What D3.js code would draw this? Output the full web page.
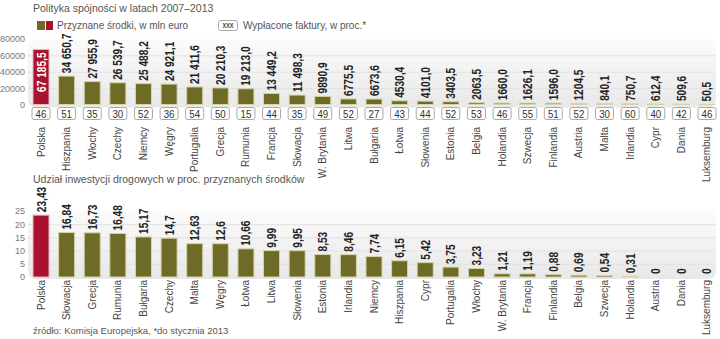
<!DOCTYPE html>
<html><head><meta charset="utf-8">
<script src="https://cdn.jsdelivr.net/npm/d3@7"></script>
<style>
html,body{margin:0;padding:0;background:#fff;}
svg{display:block;}
</style></head>
<body>
<script>
// ---- data ----
const countries1 = ["Polska","Hiszpania","Włochy","Czechy","Niemcy","Węgry","Portugalia","Grecja","Rumunia","Francja","Słowacja","W. Brytania","Litwa","Bułgaria","Łotwa","Słowenia","Estonia","Belgia","Holandia","Szwecja","Finlandia","Austria","Malta","Irlandia","Cypr","Dania","Luksemburg"];
const funds = [67185.5,34650.7,27955.9,26539.7,25488.2,24921.1,21411.6,20210.3,19213.0,13449.2,11498.3,9890.9,6775.5,6673.6,4530.4,4101.0,3403.5,2063.5,1660.0,1626.1,1596.0,1204.5,840.1,750.7,612.4,509.6,50.5];
const invoicesPct = [46,51,35,30,52,36,54,50,15,44,35,49,52,27,43,44,52,53,46,55,51,52,30,60,40,42,46];
const ticks1 = [0,20000,40000,60000,80000];

const countries2 = ["Polska","Słowacja","Grecja","Rumunia","Bułgaria","Czechy","Malta","Węgry","Łotwa","Litwa","Słowenia","Estonia","Irlandia","Niemcy","Hiszpania","Cypr","Portugalia","Włochy","W. Brytania","Francja","Finlandia","Belgia","Szwecja","Holandia","Austria","Dania","Luksemburg"];
const roadShare = [23.43,16.84,16.73,16.48,15.17,14.7,12.63,12.6,10.66,9.99,9.95,8.53,8.46,7.74,6.15,5.42,3.75,3.23,1.21,1.19,0.88,0.69,0.54,0.31,0,0,0];
const ticks2 = [0,5,10,15,20,25];

const title1 = "Polityka spójności w latach 2007–2013";
const legend1 = "Przyznane środki, w mln euro";
const legend2 = "Wypłacone faktury, w proc.*";
const title2 = "Udział inwestycji drogowych w proc. przyznanych środków";
const source = "źródło: Komisja Europejska, *do stycznia 2013";

// ---- styles ----
const OLIVE = "#6d6b25", RED = "#a8122e", TXT = "#555";
const SANS = "'Liberation Sans', Arial, sans-serif";
const NX = 0.78; // horizontal condensing for bold value labels

const W = 720, H = 339;
const svg = d3.select("body").append("svg").attr("width", W).attr("height", H);
const defs = svg.append("defs");
const grad = defs.append("linearGradient").attr("id","pg").attr("x1",0).attr("y1",0).attr("x2",0).attr("y2",1);
grad.append("stop").attr("offset","0%").attr("stop-color","#fbfbfb");
grad.append("stop").attr("offset","100%").attr("stop-color","#e8e8e8");

function fmtPL(v){
  let s = v.toFixed(1).replace(".", ",");
  if (v >= 10000) { const [i,d] = s.split(","); s = i.slice(0,i.length-3)+" "+i.slice(-3)+","+d; }
  return s;
}
function fmtDec(v){ return String(v).replace(".", ","); }

function makeX(domain){
  return d3.scaleBand().domain(domain).range([28.2, 719.8]).paddingInner(0.375).paddingOuter(0.1875);
}

// ---- titles & legend ----
svg.append("text").attr("x",33).attr("y",12).attr("font-family",SANS).attr("font-size",10.5).attr("fill",TXT).text(title1);
svg.append("rect").attr("x",37).attr("y",21).attr("width",8).attr("height",9).attr("fill",OLIVE);
svg.append("rect").attr("x",46).attr("y",21).attr("width",7).attr("height",9).attr("fill",RED);
svg.append("text").attr("x",57).attr("y",29).attr("font-family",SANS).attr("font-size",10).attr("fill",TXT).text(legend1);
svg.append("rect").attr("x",218.5).attr("y",20.5).attr("width",19).attr("height",10).attr("rx",2).attr("fill","#fff").attr("stroke","#aaa");
svg.append("text").attr("transform","translate(228,28) scale(0.8,1)").attr("text-anchor","middle").attr("font-family",SANS).attr("font-weight","bold").attr("font-size",7).attr("fill","#444").text("XXX");
svg.append("text").attr("x",243).attr("y",29).attr("font-family",SANS).attr("font-size",10).attr("fill",TXT).text(legend2);

// ---- chart 1 ----
const x1 = makeX(countries1);
const y1 = d3.scaleLinear().domain([0,80000]).range([104.5,39]);
const g1 = svg.append("g");
g1.append("rect").attr("x",28).attr("y",y1(80000)).attr("width",688).attr("height",y1(0)-y1(80000)+3).attr("rx",8).attr("fill","url(#pg)");
g1.selectAll("line.grid").data(ticks1.slice(1,-1)).join("line").attr("class","grid")
  .attr("x1",28).attr("x2",716).attr("y1",d=>y1(d)+0.5).attr("y2",d=>y1(d)+0.5).attr("stroke","#e2e2e2");
const ax1 = g1.append("g").attr("transform","translate(26,0)").call(d3.axisLeft(y1).tickValues(ticks1).tickSize(0).tickFormat(d3.format("d")));
ax1.select(".domain").remove();
ax1.selectAll("text").attr("font-family",SANS).attr("font-size",9).attr("fill","#777").attr("x",-1);

g1.selectAll("rect.bar").data(funds).join("rect").attr("class","bar")
  .attr("x",(d,i)=>x1(countries1[i])).attr("width",x1.bandwidth())
  .attr("y",d=>y1(d)).attr("height",d=>Math.max(0,y1(0)-y1(d)))
  .attr("fill",(d,i)=>i===0?RED:OLIVE).attr("stroke",(d,i)=>i===0?"#e8b8c0":"#d6d3a8").attr("stroke-width",1);

g1.selectAll("text.val").data(funds).join("text").attr("class","val")
  .attr("transform",(d,i)=>{const cx=x1(countries1[i])+x1.bandwidth()/2; return i===0?`translate(${cx+4.5},${y1(d)+3}) rotate(-90) scale(${NX},1)`:`translate(${cx+4.5},${y1(d)-3}) rotate(-90) scale(${NX},1)`;})
  .attr("text-anchor",(d,i)=>i===0?"end":"start")
  .attr("font-family",SANS).attr("font-weight","bold").attr("font-size",13)
  .attr("fill",(d,i)=>i===0?"#fff":"#222").text(d=>fmtPL(d));

const boxes = g1.selectAll("g.box").data(invoicesPct).join("g").attr("class","box")
  .attr("transform",(d,i)=>`translate(${x1(countries1[i])+x1.bandwidth()/2},0)`);
boxes.append("rect").attr("x",-9).attr("y",107.5).attr("width",18).attr("height",12).attr("rx",2).attr("fill","#fff").attr("stroke","#a8a8a8");
boxes.append("text").attr("transform","translate(0,117.5) scale(0.88,1)").attr("text-anchor","middle").attr("font-family",SANS).attr("font-size",11).attr("fill","#333").text(d=>d);

g1.selectAll("text.cat").data(countries1).join("text").attr("class","cat")
  .attr("transform",d=>`translate(${x1(d)+x1.bandwidth()/2+3.5},127) rotate(-90)`)
  .attr("text-anchor","end").attr("font-family",SANS).attr("font-size",10).attr("fill","#444").text(d=>d);

// ---- chart 2 ----
svg.append("text").attr("x",33).attr("y",183).attr("font-family",SANS).attr("font-size",10.5).attr("fill",TXT).text(title2);
const x2 = makeX(countries2);
const y2 = d3.scaleLinear().domain([0,25]).range([277,211]);
const g2 = svg.append("g");
g2.append("rect").attr("x",28).attr("y",y2(25)).attr("width",688).attr("height",y2(0)-y2(25)+2).attr("rx",8).attr("fill","url(#pg)");
g2.selectAll("line.grid").data(ticks2.slice(1,-1)).join("line").attr("class","grid")
  .attr("x1",28).attr("x2",716).attr("y1",d=>y2(d)+0.5).attr("y2",d=>y2(d)+0.5).attr("stroke","#e2e2e2");
const ax2 = g2.append("g").attr("transform","translate(26,0)").call(d3.axisLeft(y2).tickValues(ticks2).tickSize(0).tickFormat(d3.format("d")));
ax2.select(".domain").remove();
ax2.selectAll("text").attr("font-family",SANS).attr("font-size",9).attr("fill","#777").attr("x",-1);

g2.selectAll("rect.bar").data(roadShare).join("rect").attr("class","bar")
  .attr("x",(d,i)=>x2(countries2[i])).attr("width",x2.bandwidth())
  .attr("y",d=>y2(d)).attr("height",d=>Math.max(0,y2(0)-y2(d)))
  .attr("fill",(d,i)=>i===0?RED:OLIVE).attr("stroke",(d,i)=>i===0?"#e8b8c0":"#d6d3a8").attr("stroke-width",1);

g2.selectAll("text.val").data(roadShare).join("text").attr("class","val")
  .attr("transform",(d,i)=>`translate(${x2(countries2[i])+x2.bandwidth()/2+4.5},${y2(d)-3}) rotate(-90) scale(${NX},1)`)
  .attr("text-anchor","start")
  .attr("font-family",SANS).attr("font-weight","bold").attr("font-size",13)
  .attr("fill","#222").text(d=>fmtDec(d));

g2.selectAll("text.cat").data(countries2).join("text").attr("class","cat")
  .attr("transform",d=>`translate(${x2(d)+x2.bandwidth()/2+3.5},280) rotate(-90)`)
  .attr("text-anchor","end").attr("font-family",SANS).attr("font-size",10).attr("fill","#444").text(d=>d);

svg.append("text").attr("x",33).attr("y",334).attr("font-family",SANS).attr("font-size",9.5).attr("fill",TXT).text(source);
</script>
</body></html>
